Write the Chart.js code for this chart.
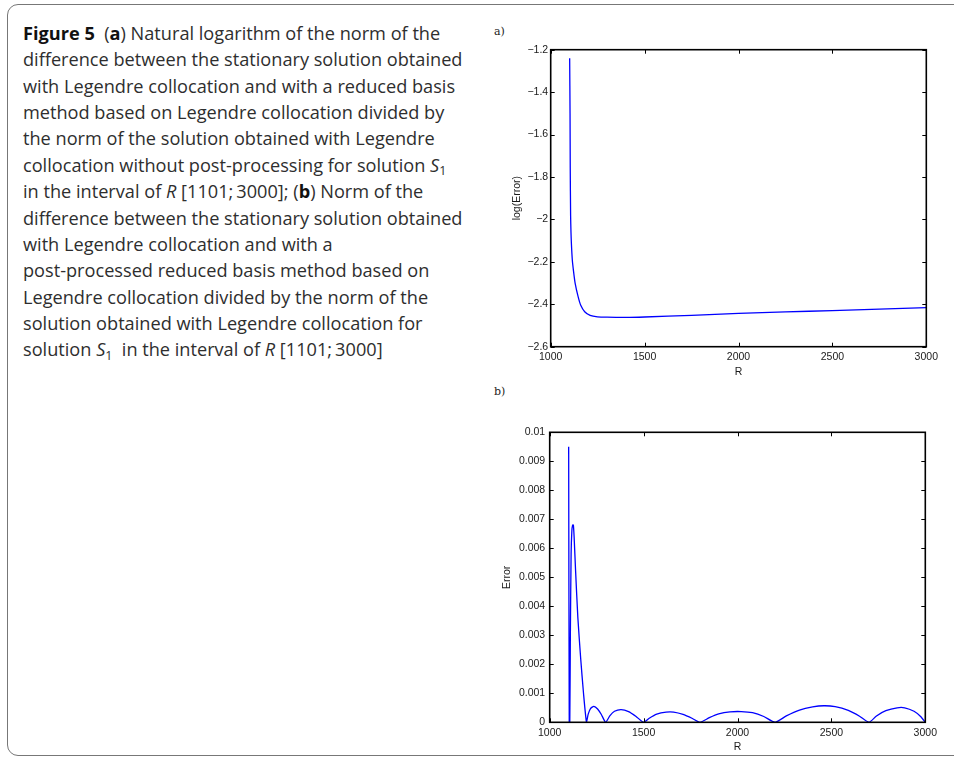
<!DOCTYPE html>
<html>
<head>
<meta charset="utf-8">
<script src="https://cdn.jsdelivr.net/npm/chart.js@4/dist/chart.umd.min.js"></script>
<style>
  html, body { margin:0; padding:0; background:#fff; width:954px; height:761px; overflow:hidden; }
  #frame { position:absolute; left:7px; top:4px; width:1000px; height:752px; border:1.5px solid #777; border-radius:11px; box-sizing:border-box; }
  #caption { position:absolute; left:23px; top:19.8px; font-family:"Open Sans","Noto Sans",sans-serif; color:#2e2e2e; line-height:26.4px; white-space:nowrap; }
  #caption div { white-space:nowrap; height:26.4px; }
  .sub { position:relative; top:0.3em; font-size:0.68em; line-height:0; }
  .lab { position:absolute; font-family:"DejaVu Serif","Liberation Serif",serif; font-size:11px; color:#222; }
  canvas { position:absolute; }
</style>
</head>
<body>
<div id="frame"></div>
<div id="caption">
  <div id="l1"><b style="color:#111">Figure 5</b>&nbsp;&nbsp;(<b style="color:#111">a</b>) Natural logarithm of the norm of the</div>
  <div id="l2">difference between the stationary solution obtained</div>
  <div>with Legendre collocation and with a reduced basis</div>
  <div>method based on Legendre collocation divided by</div>
  <div>the norm of the solution obtained with Legendre</div>
  <div>collocation without post-processing for solution <i>S</i><span class="sub">1</span></div>
  <div>in the interval of <i>R</i> [1101;&#8201;3000]; (<b style="color:#111">b</b>) Norm of the</div>
  <div>difference between the stationary solution obtained</div>
  <div>with Legendre collocation and with a</div>
  <div>post-processed reduced basis method based on</div>
  <div>Legendre collocation divided by the norm of the</div>
  <div>solution obtained with Legendre collocation for</div>
  <div>solution <i>S</i><span class="sub">1</span>&nbsp; in the interval of <i>R</i> [1101;&#8201;3000]</div>
</div>
<div class="lab" style="left:494px; top:25px;">a)</div>
<div class="lab" style="left:494px; top:385px;">b)</div>
<canvas id="ca" width="464" height="340" style="left:490px; top:40px; width:464px; height:340px;"></canvas>
<canvas id="cb" width="464" height="341" style="left:490px; top:420px; width:464px; height:341px;"></canvas>
<script>
// ---- data ----
const xTicks = [1000, 1500, 2000, 2500, 3000];
const aYTicks = [-2.6, -2.4, -2.2, -2.0, -1.8, -1.6, -1.4, -1.2];
const bYTicks = [0, 0.001, 0.002, 0.003, 0.004, 0.005, 0.006, 0.007, 0.008, 0.009, 0.01];

const aR      = [1101, 1103, 1104, 1106, 1108, 1110, 1115, 1121, 1130, 1146, 1160, 1181, 1210, 1249, 1300, 1400, 1500, 1750, 2000, 2250, 2500, 2750, 3000];
const aLogErr = [-1.24, -1.5, -1.75, -1.98, -2.06, -2.11, -2.19, -2.24, -2.30, -2.364, -2.405, -2.435, -2.452, -2.459, -2.461, -2.462, -2.46, -2.452, -2.443, -2.436, -2.430, -2.423, -2.416];

const bR   = [1101, 1104, 1107, 1110, 1114, 1118, 1122, 1126, 1130, 1138, 1150, 1165, 1180, 1196,
              1205, 1218, 1235, 1255, 1275, 1298,
              1320, 1345, 1380, 1420, 1460, 1500,
              1530, 1570, 1620, 1660, 1710, 1760, 1800,
              1850, 1900, 1960, 2020, 2080, 2140, 2200,
              2260, 2330, 2400, 2460, 2520, 2590, 2650, 2700,
              2740, 2790, 2850, 2890, 2940, 2975, 3000];
const bErr = [0.0095, 0.0, 0.0, 0.0030, 0.0058, 0.0066, 0.0068, 0.0068, 0.0064, 0.0052, 0.0036, 0.0022, 0.0010, 0.0,
              0.00028, 0.00048, 0.00055, 0.00046, 0.00027, 0.0,
              0.00022, 0.00038, 0.00044, 0.00037, 0.00020, 0.0,
              0.00014, 0.00028, 0.00035, 0.00035, 0.00027, 0.00013, 0.0,
              0.00016, 0.00029, 0.00036, 0.00037, 0.00033, 0.00020, 0.0,
              0.00022, 0.00042, 0.00053, 0.00057, 0.00054, 0.00041, 0.00021, 0.0,
              0.00022, 0.00040, 0.00050, 0.00050, 0.00038, 0.00020, 0.0];

// ---- caption sizing to match reference width ----
(function(){
  const cap = document.getElementById('caption');
  let fs = 17; cap.style.fontSize = fs + 'px';
  const w = document.getElementById('l2').getBoundingClientRect().width;
  fs = fs * 440 / w;
  cap.style.fontSize = fs + 'px';
})();

const tickFont = { family: '"Liberation Sans", Arial, sans-serif', size: 10.5 };

const matlabBox = {
  id: 'matlabBox',
  afterDraw(chart) {
    const { ctx, chartArea: { left, right, top, bottom }, scales: { x, y } } = chart;
    ctx.save();
    ctx.strokeStyle = '#000';
    ctx.lineWidth = 1;
    const tl = 4;
    ctx.beginPath();
    x.ticks.forEach(t => {
      const p = Math.round(x.getPixelForValue(t.value)) + 0.5;
      ctx.moveTo(p, bottom); ctx.lineTo(p, bottom - tl);
      ctx.moveTo(p, top); ctx.lineTo(p, top + tl);
    });
    y.ticks.forEach(t => {
      const p = Math.round(y.getPixelForValue(t.value)) + 0.5;
      ctx.moveTo(left, p); ctx.lineTo(left + tl, p);
      ctx.moveTo(right, p); ctx.lineTo(right - tl, p);
    });
    ctx.stroke();
    ctx.lineWidth = 1.6;
    ctx.strokeRect(left, top, right - left, bottom - top);
    ctx.restore();
  }
};

function makeChart(id, xs, ys, yTicks, yMin, yMax, fmt, geom) {
  return new Chart(document.getElementById(id), {
    type: 'line',
    data: { datasets: [{
      data: xs.map((v, i) => ({ x: v, y: ys[i] })),
      borderColor: '#0000ff', borderWidth: 1.3, pointRadius: 0, tension: 0.2, fill: false
    }] },
    options: {
      responsive: false, animation: false, events: [],
      layout: { padding: { left: 0, top: geom.top, right: geom.right, bottom: 0 } },
      plugins: { legend: { display: false }, tooltip: { enabled: false } },
      scales: {
        x: {
          type: 'linear', min: 1000, max: 3000, offset: false,
          afterBuildTicks: s => { s.ticks = xTicks.map(v => ({ value: v })); },
          afterFit: s => { s.height = geom.xh; },
          grid: { display: false, drawTicks: false }, border: { display: false },
          ticks: { font: tickFont, color: '#1a1a1a', padding: geom.xpad, maxRotation: 0, autoSkip: false, callback: v => String(v) },
          title: { display: true, text: 'R', font: tickFont, color: '#1a1a1a', padding: { top: 0, bottom: geom.xtpad } }
        },
        y: {
          type: 'linear', min: yMin, max: yMax,
          afterBuildTicks: s => { s.ticks = yTicks.map(v => ({ value: v })); },
          afterFit: s => { s.width = geom.yw; },
          grid: { display: false, drawTicks: false }, border: { display: false },
          ticks: { font: tickFont, color: '#1a1a1a', padding: geom.ypad, autoSkip: false, callback: fmt },
          title: { display: true, text: geom.ytitle, font: tickFont, color: '#1a1a1a', padding: { top: geom.ytpad, bottom: 0 } }
        }
      }
    },
    plugins: [matlabBox]
  });
}

makeChart('ca', aR, aLogErr, aYTicks, -2.6, -1.2,
  v => String(Math.round(v * 10) / 10).replace('-', '\u2212'),
  { top: 9.7, right: 27.7, xh: 33.3, yw: 60.7, xpad: 4.5, ypad: 2.5, xtpad: 1.5, ytpad: 20.4, ytitle: 'log(Error)' });

makeChart('cb', bR, bErr, bYTicks, 0, 0.01,
  v => String(Math.round(v * 1000) / 1000),
  { top: 12.3, right: 28.7, xh: 38.7, yw: 59.7, xpad: 4.5, ypad: 4.5, xtpad: 8, ytpad: 10.7, ytitle: 'Error' });
</script>
</body>
</html>
